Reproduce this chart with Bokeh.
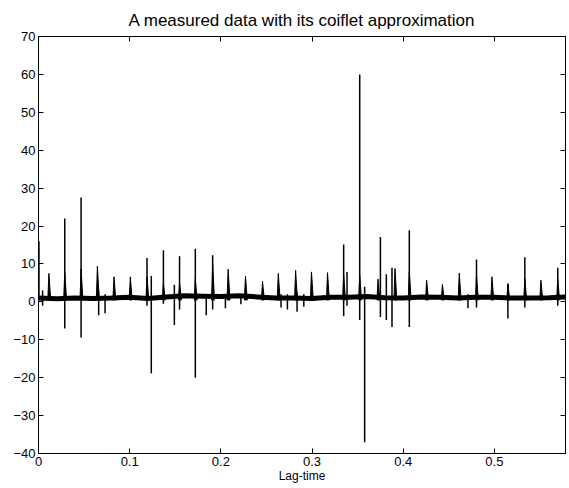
from bokeh.plotting import figure
from bokeh.models import Range1d, FixedTicker, LinearAxis
from bokeh.embed import file_html
from bokeh.resources import INLINE

# ---- data ----
# slowly varying centre of the dense noise band (baseline)
base_x = [0.0, 0.02, 0.04, 0.06, 0.08, 0.10, 0.12, 0.14, 0.16, 0.18, 0.20, 0.22,
          0.24, 0.26, 0.28, 0.30, 0.32, 0.34, 0.36, 0.38, 0.40, 0.42, 0.44, 0.46,
          0.48, 0.50, 0.52, 0.54, 0.56, 0.578]
base_y = [1.0, 0.8, 1.0, 0.9, 1.0, 1.2, 0.9, 1.3, 1.6, 1.5, 1.4, 1.6,
          1.3, 1.0, 1.0, 0.9, 1.2, 1.2, 1.4, 1.1, 1.0, 1.3, 1.2, 1.0,
          1.2, 1.2, 1.0, 1.0, 1.1, 1.3]

# periodic heart-beat like bumps: position and peak value
bump_x = [0.0114, 0.0288, 0.0467, 0.0646, 0.0828, 0.1007, 0.1190, 0.1370,
          0.1547, 0.1720, 0.1910, 0.2080, 0.2270, 0.2457, 0.2630, 0.2820,
          0.2994, 0.3170, 0.3347, 0.3523, 0.3724, 0.3910, 0.4067, 0.4257,
          0.4430, 0.4615, 0.4804, 0.4973, 0.5148, 0.5334, 0.5510, 0.5695]
bump_top = [7.5, 7.7, 8.7, 9.4, 6.6, 6.6, 6.6, 5.0,
            5.0, 6.0, 10.0, 8.6, 6.8, 5.4, 7.5, 8.3,
            7.9, 7.7, 7.0, 7.0, 6.0, 8.8, 8.0, 5.7,
            4.6, 7.6, 7.0, 6.6, 4.8, 6.0, 5.7, 6.0]

# thin vertical excursions: position, lowest and highest value
spike_x = [0.0005, 0.0045, 0.0288, 0.0467, 0.0660, 0.0730, 0.1190, 0.1237,
           0.1370, 0.1490, 0.1547, 0.1720, 0.1840, 0.1910, 0.2050, 0.2220,
           0.2660, 0.2730, 0.2836, 0.2910, 0.3347, 0.3384, 0.3523, 0.3577,
           0.3750, 0.3815, 0.3877, 0.4067, 0.4710, 0.4804, 0.5148, 0.5334,
           0.5695]
spike_lo = [0.5, -1.0, -7.0, -9.4, -3.5, -3.0, -1.0, -18.8,
            -0.5, -6.1, -2.0, -20.0, -3.5, -2.0, -1.7, -0.6,
            -1.5, -2.0, -2.6, -1.3, -3.8, -1.0, -4.8, -37.0,
            -4.0, -4.8, -6.6, -6.6, -1.7, -1.5, -4.4, -1.5,
            -1.0]
spike_hi = [16.0, 3.0, 22.0, 27.5, 3.0, 2.0, 11.6, 6.8,
            13.6, 4.5, 12.0, 14.0, 2.0, 12.3, 2.0, 2.0,
            2.0, 2.0, 2.5, 2.0, 15.1, 7.9, 60.0, 4.0,
            17.1, 7.3, 9.0, 18.9, 2.0, 11.2, 4.8, 11.8,
            9.0]

x_ticks = [0, 0.1, 0.2, 0.3, 0.4, 0.5]
y_ticks = [-40, -30, -20, -10, 0, 10, 20, 30, 40, 50, 60, 70]

FONT = "Liberation Sans"

p = figure(width=569, height=488, output_backend="svg", toolbar_location=None,
           x_range=Range1d(0, 0.578), y_range=Range1d(-40, 70),
           min_border_left=38, min_border_right=4, min_border_top=36,
           min_border_bottom=35, background_fill_color="white",
           border_fill_color="white")
p.grid.visible = False
p.outline_line_color = "black"
p.outline_line_width = 1

p.title.text = "A measured data with its coiflet approximation"
p.title.align = "center"
p.title.text_font = FONT
p.title.text_font_size = "17px"
p.title.text_font_style = "normal"
p.title.text_color = "black"
p.title.standoff = 14

# baseline noise band
p.line(base_x, base_y, line_width=5, line_color="black")
# bumps
bxs = [[x - 0.0012, x, x + 0.0020] for x in bump_x]
bys = [[0.5, t, 0.5] for t in bump_top]
p.patches(bxs, bys, fill_color="black", line_color="black", line_width=1)
# spikes
p.segment(x0=spike_x, y0=spike_lo, x1=spike_x, y1=spike_hi,
          line_color="black", line_width=1.5)

bottom_ax = p.below[0]
left_ax = p.left[0]
top_ax = LinearAxis()
right_ax = LinearAxis()
p.add_layout(top_ax, "above")
p.add_layout(right_ax, "right")

for ax, ticks, labels in ((bottom_ax, x_ticks, True), (top_ax, x_ticks, False),
                          (left_ax, y_ticks, True), (right_ax, y_ticks, False)):
    ax.ticker = FixedTicker(ticks=ticks)
    ax.major_tick_in = 5
    ax.major_tick_out = 0
    ax.minor_tick_line_color = None
    ax.axis_line_color = "black"
    ax.major_tick_line_color = "black"
    ax.major_label_text_font = FONT
    if labels:
        ax.major_label_text_color = "black"
        ax.major_label_text_font_size = "13px"
        ax.major_label_standoff = 3
    else:
        ax.major_label_text_color = None
        ax.major_label_text_font_size = "1px"
        ax.major_label_standoff = 0

bottom_ax.axis_label = "Lag-time"
bottom_ax.axis_label_text_font = FONT
bottom_ax.axis_label_text_font_size = "12px"
bottom_ax.axis_label_text_font_style = "normal"
bottom_ax.axis_label_text_color = "black"
bottom_ax.axis_label_standoff = 0

open("out.html", "w").write(file_html(p, INLINE))
